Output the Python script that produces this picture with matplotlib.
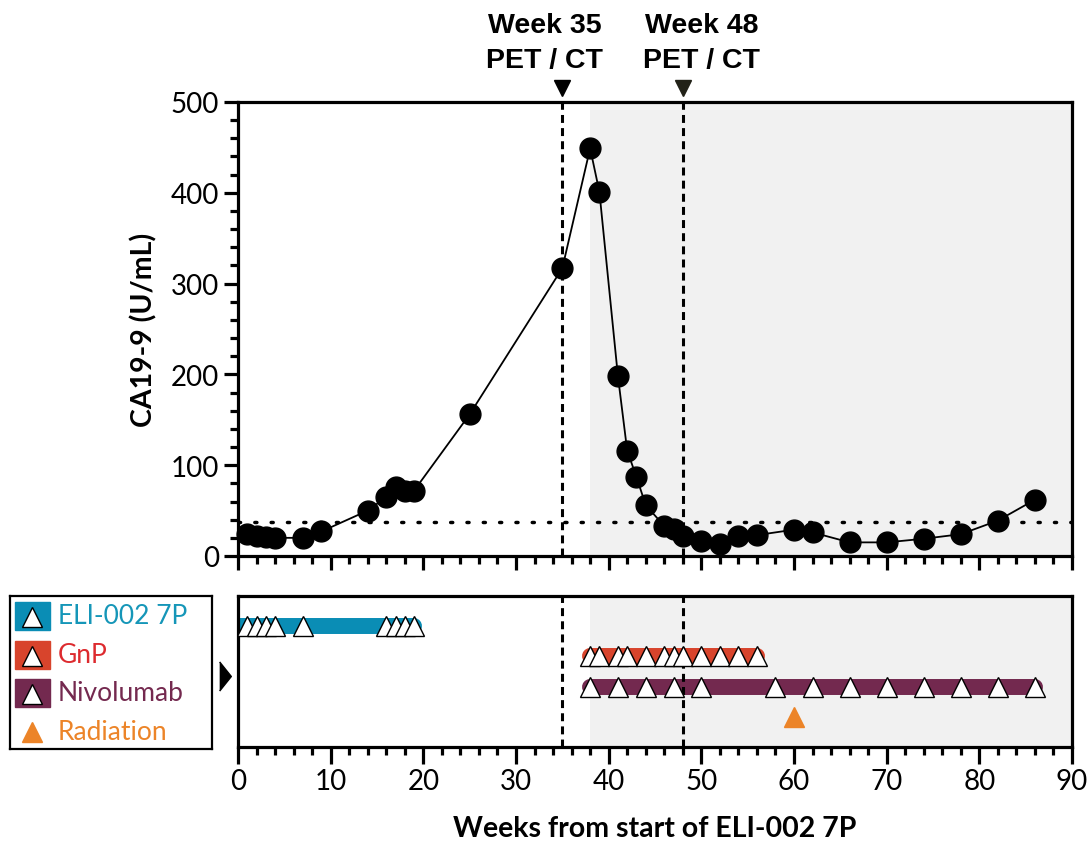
import matplotlib
matplotlib.use("Agg")
import matplotlib.pyplot as plt
from matplotlib.patches import Rectangle
from matplotlib.ticker import MultipleLocator

plt.rcParams['font.family'] = ['Lato', 'DejaVu Sans']

# CA19-9 time course (weeks from start of ELI-002 7P)
weeks = [1, 2, 3, 4, 7, 9, 14, 16, 17, 18, 19, 25, 35, 38, 39, 41, 42, 43, 44,
         46, 47, 48, 50, 52, 54, 56, 60, 62, 66, 70, 74, 78, 82, 86]
ca199 = [24, 22, 21, 20, 20, 27, 50, 65, 76, 72, 72, 156, 317, 449, 401, 198, 116, 87, 56,
         33, 30, 22, 16, 13, 22, 23, 29, 26, 15, 15, 19, 24, 39, 62]
uln = 37
pet_ct_weeks = [35, 48]
pet_ct_labels = ["Week 35\nPET / CT", "Week 48\nPET / CT"]
shade_start = 38

# treatment timeline
eli_doses = [1, 2, 3, 4, 7, 16, 17, 18, 19]
eli_span = [0, 19]
gnp_doses = [38, 39, 41, 42, 44, 46, 47, 48, 50, 52, 54, 56]
gnp_span = [38, 56]
nivo_doses = [38, 41, 44, 47, 50, 58, 62, 66, 70, 74, 78, 82, 86]
nivo_span = [38, 86]
radiation = [60]

treatments = ["ELI-002 7P", "GnP", "Nivolumab", "Radiation"]
bar_colors = ["#0a8db5", "#d8442c", "#73294f", "#ec8428"]
text_colors = ["#1596b8", "#dd2a2e", "#74294f", "#ec8428"]

W, H = 1091, 845
fig = plt.figure(figsize=(W / 100, H / 100), dpi=100)


def fax(l, t, r, b):
    return fig.add_axes([l / W, 1 - b / H, (r - l) / W, (b - t) / H])


ax = fax(238, 103, 1072, 557)
ax2 = fax(238, 597, 1072, 748)
SPW = 2.3

# ---- top panel ----
ax.axvspan(shade_start, 90, color="#f1f1f1", zorder=0, lw=0)
ax.plot(weeks, ca199, color="black", lw=1.3, marker="o", ms=15, zorder=4, clip_on=False)
ax.axhline(uln, color="black", lw=2.5, ls=(0, (0.6, 4.1)), dash_capstyle="round", zorder=2)
for w in pet_ct_weeks:
    ax.axvline(w, color="black", lw=2.2, ls=(0, (2.6, 1.7)), zorder=3)
ax.set_xlim(0, 90)
ax.set_ylim(0, 500)
ax.xaxis.set_major_locator(MultipleLocator(10))
ax.xaxis.set_minor_locator(MultipleLocator(2))
ax.yaxis.set_major_locator(MultipleLocator(100))
ax.yaxis.set_minor_locator(MultipleLocator(20))
ax.tick_params(axis="x", which="both", labelbottom=False)
ax.tick_params(which="major", length=10, width=SPW, labelsize=20)
ax.tick_params(which="minor", length=6, width=SPW)
for s in ax.spines.values():
    s.set_linewidth(SPW)
ax.set_ylabel("CA19-9 (U/mL)", fontsize=20.5, fontweight="bold", labelpad=10)

# PET / CT markers above the panel
for w, lab, dx, col in zip(pet_ct_weeks, pet_ct_labels, [-1.9, 2.0], ["black", "#222218"]):
    ax.plot(w, 515, marker="v", ms=12, color=col, clip_on=False)
    ax.text(w + dx, 532, lab, ha="center", va="bottom", fontsize=20.5,
            fontweight="bold", family="Liberation Sans", linespacing=1.45)

# ---- bottom panel ----
ax2.axvspan(shade_start, 90, color="#f1f1f1", zorder=0, lw=0)
for w in pet_ct_weeks:
    ax2.axvline(w, color="black", lw=2.2, ls=(0, (2.6, 1.7)), zorder=3)
rows = [4, 3, 2, 1]
spans = [eli_span, gnp_span, nivo_span]
doses = [eli_doses, gnp_doses, nivo_doses]
for y, sp, d, c in zip(rows[:3], spans, doses, bar_colors[:3]):
    ax2.plot(sp, [y, y], color=c, lw=11.5, solid_capstyle="round", zorder=2)
    ax2.plot(d, [y] * len(d), ls="none", marker="^", ms=15, mfc="white",
             mec="black", mew=1.0, zorder=4)
ax2.plot(radiation, [rows[3]] * len(radiation), ls="none", marker="^", ms=14,
         color=bar_colors[3], zorder=4)
ax2.set_xlim(0, 90)
ax2.set_ylim(0, 5)
ax2.set_yticks([])
ax2.xaxis.set_major_locator(MultipleLocator(10))
ax2.xaxis.set_minor_locator(MultipleLocator(2))
ax2.tick_params(axis="x", which="major", length=12, width=SPW, labelsize=20, pad=3)
ax2.tick_params(axis="x", which="minor", length=6, width=SPW)
for s in ax2.spines.values():
    s.set_linewidth(SPW)
ax2.set_xlabel("Weeks from start of ELI-002 7P", fontsize=20.5, fontweight="bold", labelpad=15)
ax2.plot(-1.4, 2.35, marker=[(-0.4, -1), (0.4, 0), (-0.4, 1)], ms=21, color="black",
         clip_on=False)

# ---- legend ----
lg = fax(10, 597, 212, 750)
lg.set_xlim(0, 202)
lg.set_ylim(153, 0)
lg.set_xticks([])
lg.set_yticks([])
for s in lg.spines.values():
    s.set_linewidth(1.6)
for i, (name, bc, tc) in enumerate(zip(treatments, bar_colors, text_colors)):
    yc = 20 + i * 38.5
    if i < 3:
        lg.add_patch(Rectangle((5, yc - 14), 35, 28, color=bc))
        lg.plot(22, yc + 1, marker="^", ms=14, mfc="white", mec="black", mew=1.0)
    else:
        lg.plot(22, yc, marker="^", ms=15, color=bc)
    lg.text(48, yc, name, color=tc, fontsize=19, va="center", ha="left")

fig.savefig("out.png", dpi=100)
